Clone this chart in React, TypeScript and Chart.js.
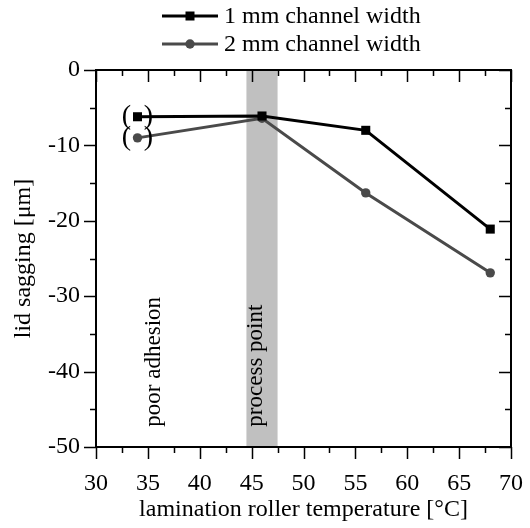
import React, { useEffect, useRef } from "react";
import { Chart, registerables } from "chart.js";

Chart.register(...registerables);

const temperatures = [34, 46, 56, 68];
const sag1mm = [-6.2, -6.1, -8.0, -21.1];
const sag2mm = [-9.0, -6.4, -16.3, -26.9];
const seriesLabels = ["1 mm channel width", "2 mm channel width"];
const processBand = [44.5, 47.5];
const annotations = [
  { text: "poor adhesion", x: 36.2, y: -47.3 },
  { text: "process point", x: 46.0, y: -47.3 },
];
const xTitle = "lamination roller temperature [°C]";
const yTitle = "lid sagging [μm]";

const FONT = "'Liberation Serif', 'Times New Roman', serif";
const C1 = "#000000";
const C2 = "#4a4a4a";

const overlay = {
  id: "overlay",
  beforeDatasetsDraw(chart: any) {
    const { ctx, chartArea: a, scales } = chart;
    const xs = scales.x;
    ctx.save();
    const x0 = xs.getPixelForValue(processBand[0]);
    const x1 = xs.getPixelForValue(processBand[1]);
    ctx.fillStyle = "#c0c0c0";
    ctx.fillRect(x0, a.top, x1 - x0, a.bottom - a.top);
    ctx.fillStyle = "#000";
    ctx.font = `23px ${FONT}`;
    ctx.textAlign = "left";
    ctx.textBaseline = "alphabetic";
    for (const an of annotations) {
      const px = xs.getPixelForValue(an.x);
      const py = scales.y.getPixelForValue(an.y);
      ctx.save();
      ctx.translate(px, py);
      ctx.rotate(-Math.PI / 2);
      ctx.fillText(an.text, 0, 0);
      ctx.restore();
    }
    ctx.restore();
  },
  afterDraw(chart: any) {
    const { ctx, chartArea: a, scales } = chart;
    const xs = scales.x;
    const ys = scales.y;
    ctx.save();
    ctx.fillStyle = "#000";
    ctx.font = `28px ${FONT}`;
    ctx.textBaseline = "middle";
    ctx.textAlign = "center";
    const px = xs.getPixelForValue(temperatures[0]);
    for (const v of [sag1mm[0], sag2mm[0]]) {
      const py = ys.getPixelForValue(v);
      ctx.fillText("(", px - 11, py);
      ctx.fillText(")", px + 11, py);
    }
    ctx.strokeStyle = "#000";
    ctx.lineWidth = 2;
    ctx.strokeRect(a.left, a.top, a.right - a.left, a.bottom - a.top);
    ctx.lineWidth = 1.5;
    ctx.beginPath();
    for (let v = 30; v <= 70; v += 2.5) {
      const x = Math.round(xs.getPixelForValue(v)) + 0.5;
      const len = v % 5 === 0 ? 12 : 6;
      ctx.moveTo(x, a.bottom);
      ctx.lineTo(x, a.bottom + len);
      ctx.moveTo(x, a.top);
      ctx.lineTo(x, a.top + len);
    }
    for (let v = -50; v <= 0; v += 5) {
      const y = Math.round(ys.getPixelForValue(v)) + 0.5;
      const len = v % 10 === 0 ? 12 : 6;
      ctx.moveTo(a.left, y);
      ctx.lineTo(a.left - len, y);
      ctx.moveTo(a.right, y);
      ctx.lineTo(a.right - len, y);
    }
    ctx.stroke();
    ctx.font = `24px ${FONT}`;
    ctx.textAlign = "center";
    ctx.textBaseline = "middle";
    ctx.fillText(xTitle, (a.left + a.right) / 2, 510);
    ctx.save();
    ctx.translate(24, (a.top + a.bottom) / 2);
    ctx.rotate(-Math.PI / 2);
    ctx.fillText(yTitle, 0, 0);
    ctx.restore();
    const rows = [
      { y: 16, color: C1, style: "rect" },
      { y: 44, color: C2, style: "circle" },
    ];
    rows.forEach((r, i) => {
      ctx.strokeStyle = r.color;
      ctx.fillStyle = r.color;
      ctx.lineWidth = 3;
      ctx.beginPath();
      ctx.moveTo(162, r.y);
      ctx.lineTo(218, r.y);
      ctx.stroke();
      if (r.style === "rect") {
        ctx.fillRect(190 - 4.5, r.y - 4.5, 9, 9);
      } else {
        ctx.beginPath();
        ctx.arc(190, r.y, 4.7, 0, Math.PI * 2);
        ctx.fill();
      }
      ctx.fillStyle = "#000";
      ctx.textAlign = "left";
      ctx.fillText(seriesLabels[i], 224, r.y + 1);
    });
    ctx.restore();
  },
};

export default function App() {
  const ref = useRef<HTMLCanvasElement | null>(null);
  useEffect(() => {
    document.body.style.margin = "0";
    const canvas = ref.current!;
    const chart = new Chart(canvas, {
      type: "line",
      data: {
        datasets: [
          {
            label: seriesLabels[0],
            data: temperatures.map((t, i) => ({ x: t, y: sag1mm[i] })),
            borderColor: C1,
            backgroundColor: C1,
            borderWidth: 3,
            pointStyle: "rect",
            pointRadius: 6.4,
            pointBorderWidth: 0,
          },
          {
            label: seriesLabels[1],
            data: temperatures.map((t, i) => ({ x: t, y: sag2mm[i] })),
            borderColor: C2,
            backgroundColor: C2,
            borderWidth: 3,
            pointStyle: "circle",
            pointRadius: 4.7,
            pointBorderWidth: 0,
          },
        ],
      },
      options: {
        responsive: false,
        animation: false,
        layout: { padding: { top: 70, right: 19, left: 0, bottom: 0 } },
        plugins: { legend: { display: false }, tooltip: { enabled: false } },
        scales: {
          x: {
            type: "linear",
            min: 30,
            max: 70,
            border: { display: false },
            grid: { display: false, drawTicks: false },
            ticks: {
              stepSize: 5,
              color: "#000",
              font: { family: FONT, size: 24 },
              padding: 22,
              maxRotation: 0,
            },
            afterFit: (s: any) => {
              s.height = 81;
              s.paddingLeft = 0;
              s.paddingRight = 0;
            },
          },
          y: {
            min: -50,
            max: 0,
            border: { display: false },
            grid: { display: false, drawTicks: false },
            ticks: {
              stepSize: 10,
              color: "#000",
              font: { family: FONT, size: 24 },
              padding: 16,
            },
            afterFit: (s: any) => {
              s.width = 96;
              s.paddingTop = 0;
              s.paddingBottom = 0;
            },
          },
        },
      },
      plugins: [overlay],
    });
    return () => chart.destroy();
  }, []);
  return (
    <div style={{ width: 530, height: 528 }}>
      <canvas ref={ref} width={530} height={528} style={{ display: "block" }} />
    </div>
  );
}
